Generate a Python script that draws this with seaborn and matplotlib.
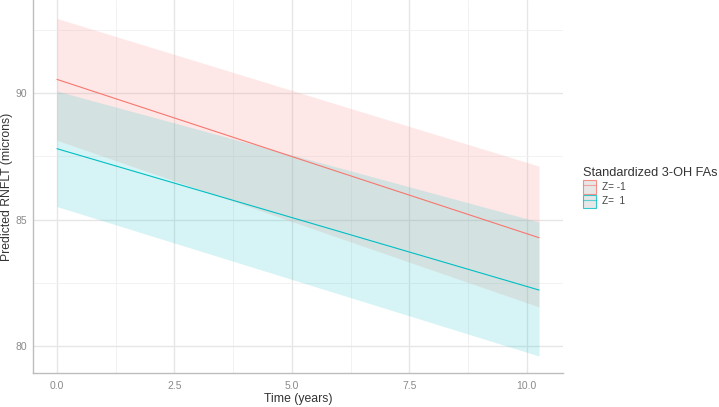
import numpy as np
import pandas as pd
import seaborn as sns
import matplotlib.pyplot as plt
from matplotlib.patches import Patch
from matplotlib.lines import Line2D
from matplotlib.ticker import MultipleLocator

# values (endpoints of the fitted lines)
time = [0.0, 10.26]
groups = ['Z= -1', 'Z=  1']
fit_neg = [90.54, 84.28]
lo_neg = [88.13, 81.54]
hi_neg = [92.95, 87.11]
fit_pos = [87.80, 82.21]
lo_pos = [85.51, 79.60]
hi_pos = [90.08, 84.90]

colors = ['#F8766D', '#00BFC4']

df = pd.DataFrame({
    'Time': time * 2,
    'fit': fit_neg + fit_pos,
    'lo': lo_neg + lo_pos,
    'hi': hi_neg + hi_pos,
    'group': [groups[0]] * 2 + [groups[1]] * 2,
})

sns.set_theme(style='white')
plt.rcParams['font.family'] = ['Liberation Sans', 'DejaVu Sans']

fig = plt.figure(figsize=(7.19, 4.07), dpi=100)
ax = fig.add_axes([33 / 719, 34 / 407, (563 - 33) / 719, 373 / 407])

for g, c in zip(groups, colors):
    sub = df[df['group'] == g]
    ax.fill_between(sub['Time'], sub['lo'], sub['hi'], color=c, alpha=0.16,
                    linewidth=0, zorder=2)

sns.lineplot(data=df, x='Time', y='fit', hue='group', palette=colors,
             linewidth=0.8, legend=False, ax=ax, zorder=3)

ax.set_xlim(-0.51, 10.77)
ax.set_ylim(78.93, 93.68)
ax.xaxis.set_major_locator(MultipleLocator(2.5))
ax.xaxis.set_minor_locator(MultipleLocator(1.25))
ax.yaxis.set_major_locator(MultipleLocator(5))
ax.yaxis.set_minor_locator(MultipleLocator(2.5))
ax.set_xticks([0, 2.5, 5, 7.5, 10])
ax.set_xticklabels(['0.0', '2.5', '5.0', '7.5', '10.0'])
ax.grid(which='major', color='#e6e6e6', linewidth=1.0, zorder=0)
ax.grid(which='minor', color='#f0f0f0', linewidth=0.6, zorder=0)
ax.set_axisbelow(True)

for s in ['top', 'right']:
    ax.spines[s].set_visible(False)
for s in ['left', 'bottom']:
    ax.spines[s].set_color('#bdbdbd')
    ax.spines[s].set_linewidth(1.0)

ax.tick_params(axis='x', which='both', length=0, labelsize=7.5,
               labelcolor='#8a8a8a', pad=5.5)
ax.tick_params(axis='y', which='both', length=0, labelsize=7.5,
               labelcolor='#8a8a8a', pad=4.5)
ax.set_xlabel('Time (years)', fontsize=8.8, color='#333333', labelpad=2)
ax.set_ylabel('Predicted RNFLT (microns)', fontsize=8.8, color='#333333',
              labelpad=1.5)

handles = []
for c in colors:
    handles.append((Patch(facecolor='#e2e2e2', edgecolor=c, linewidth=0.8,
                          alpha=0.8),
                    Line2D([], [], color=c, linewidth=0.8, alpha=0.6)))
leg = fig.legend(handles, groups, title='Standardized 3-OH FAs',
                 loc='upper left', bbox_to_anchor=(583 / 719, 1 - 167 / 407),
                 frameon=False, fontsize=7.2, title_fontsize=9.2,
                 borderaxespad=0, borderpad=0,
                 handlelength=1.3, handleheight=1.7, handletextpad=0.6,
                 labelspacing=0.1, alignment='left')
for t in leg.get_texts():
    t.set_color('#444444')
leg.get_title().set_color('#333333')

fig.savefig('out.png', dpi=100)
